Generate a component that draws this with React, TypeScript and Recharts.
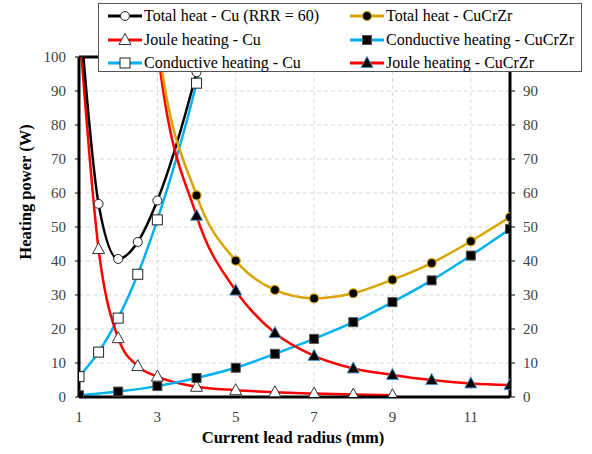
import React from 'react';
import { LineChart, Line, XAxis, YAxis, CartesianGrid, ReferenceLine, Label } from 'recharts';

// radius (mm) for each series
const cuRadius = [1, 1.5, 2, 2.5, 3, 4, 5];
const cuJouleRadius = [1, 1.5, 2, 2.5, 3, 4, 5, 6, 7, 8, 9];
const cucrzrRadius = [1, 2, 3, 4, 5, 6, 7, 8, 9, 10, 11, 12];
const cucrzrJouleRadius = [2, 3, 4, 5, 6, 7, 8, 9, 10, 11, 12];

// heating power (W)
const cuTotal = [116, 56.8, 40.6, 45.6, 57.8, 95.5, 147];
const cuConductive = [6.0, 13.2, 23.2, 36.1, 52.1, 92.3, 145];
const cuJoule = [110, 43.5, 17.3, 9.1, 6.0, 3.0, 2.0, 1.4, 1.0, 0.7, 0.5];
const cucrzrConductive = [0.5, 1.6, 3.2, 5.6, 8.6, 12.7, 17.1, 22.0, 27.9, 34.3, 41.6, 49.4];
const cucrzrJoule = [260, 103, 53.3, 31.3, 18.8, 12.1, 8.4, 6.5, 5.0, 4.0, 3.5];
const cucrzrTotal = [262, 106, 59.3, 40.1, 31.5, 29.0, 30.5, 34.5, 39.4, 45.8, 52.9];

const xTicks = [1, 3, 5, 7, 9, 11];
const yTicks = [0, 10, 20, 30, 40, 50, 60, 70, 80, 90, 100];
// the right axis "100" sits under the legend box
const yTicksRight = [0, 10, 20, 30, 40, 50, 60, 70, 80, 90];

const toRows = (xs: number[], ys: number[]) => xs.map((x, i) => ({ x, y: ys[i] }));

const BLACK = '#000000';
const RED = '#ff0000';
const BLUE = '#00b0f0';
const GOLD = '#d9a300';
const FONT = 'Liberation Serif, DejaVu Serif, serif';

type Mark = (cx: number, cy: number, key?: string) => React.ReactElement;

const tri = (cx: number, cy: number) =>
  `${cx},${cy - 6.5} ${cx + 6},${cy + 4.5} ${cx - 6},${cy + 4.5}`;

const openCircle: Mark = (cx, cy, key) => (
  <circle key={key} cx={cx} cy={cy} r={4.5} fill="#fff" stroke="#222" strokeWidth={1} />
);
const goldCircle: Mark = (cx, cy, key) => (
  <circle key={key} cx={cx} cy={cy} r={4.5} fill="#000" stroke={GOLD} strokeWidth={1.2} />
);
const openTri: Mark = (cx, cy, key) => (
  <polygon key={key} points={tri(cx, cy)} fill="#fff" stroke="#333" strokeWidth={1} />
);
const blackTri: Mark = (cx, cy, key) => (
  <polygon key={key} points={tri(cx, cy)} fill="#000" stroke="#4a90c8" strokeWidth={1} />
);
const openSquare: Mark = (cx, cy, key) => (
  <rect key={key} x={cx - 5} y={cy - 5} width={10} height={10} fill="#fff" stroke="#222" strokeWidth={1} />
);
const blackSquare: Mark = (cx, cy, key) => (
  <rect key={key} x={cx - 4.5} y={cy - 4.5} width={9} height={9} fill="#000" stroke="#555" strokeWidth={1} />
);

const dotOf = (m: Mark) => (p: any) => {
  const k = `dot-${p.index}`;
  if (p.cx == null || p.cy == null) return <g key={k} />;
  return m(p.cx, p.cy, k);
};

const legendItems = [
  { name: 'Total heat - Cu (RRR = 60)', color: BLACK, mark: openCircle, col: 0, row: 0 },
  { name: 'Total heat - CuCrZr', color: GOLD, mark: goldCircle, col: 1, row: 0 },
  { name: 'Joule heating - Cu', color: RED, mark: openTri, col: 0, row: 1 },
  { name: 'Conductive heating - CuCrZr', color: BLUE, mark: blackSquare, col: 1, row: 1 },
  { name: 'Conductive heating - Cu', color: BLUE, mark: openSquare, col: 0, row: 2 },
  { name: 'Joule heating - CuCrZr', color: RED, mark: blackTri, col: 1, row: 2 },
];

function ChartLegend() {
  return (
    <div
      style={{
        position: 'absolute',
        left: 98,
        top: 3,
        width: 484,
        height: 69,
        boxSizing: 'border-box',
        border: '1px solid #555',
        background: '#fff',
        fontFamily: FONT,
        fontSize: 16,
        color: '#000',
      }}
    >
      {legendItems.map((it) => (
        <div
          key={it.name}
          style={{
            position: 'absolute',
            left: it.col === 0 ? 9 : 251,
            top: 0.5 + it.row * 23.5,
            height: 23,
            display: 'flex',
            alignItems: 'center',
            whiteSpace: 'nowrap',
          }}
        >
          <svg width={34} height={16} style={{ marginRight: 2 }}>
            <line x1={0} y1={8} x2={34} y2={8} stroke={it.color} strokeWidth={3} />
            {it.mark(17, 8)}
          </svg>
          <span>{it.name}</span>
        </div>
      ))}
    </div>
  );
}

const tickStyle = { fontFamily: FONT, fontSize: 15, fill: '#404040' };

export default function App() {
  return (
    <div style={{ position: 'absolute', left: 0, top: 0, width: 592, height: 454, background: '#fff', fontFamily: FONT }}>
      <LineChart width={592} height={454} margin={{ top: 57, right: 42, bottom: 7, left: 34 }} style={{ fontFamily: FONT }}>
        <CartesianGrid yAxisId="left" stroke="#d9d9d9" strokeDasharray="4 3" />
        <XAxis
          dataKey="x"
          type="number"
          domain={[1, 12]}
          ticks={xTicks}
          allowDataOverflow
          height={50}
          tickLine={false}
          tickMargin={8}
          axisLine={{ stroke: '#000', strokeWidth: 3 }}
          tick={tickStyle}
        >
          <Label
            content={() => (
              <text x={293} y={437} textAnchor="middle" dominantBaseline="central" fontFamily={FONT} fontSize={16.5} fontWeight="bold" fill="#000">
                Current lead radius (mm)
              </text>
            )}
          />
        </XAxis>
        <YAxis
          yAxisId="left"
          domain={[0, 100]}
          ticks={yTicks}
          allowDataOverflow
          width={45}
          tickSize={4}
          tickMargin={9}
          tickLine={{ stroke: '#000' }}
          axisLine={{ stroke: '#000', strokeWidth: 3 }}
          tick={tickStyle}
        >
          <Label
            content={() => (
              <text x={25} y={192} transform="rotate(-90, 25, 192)" textAnchor="middle" dominantBaseline="central" fontFamily={FONT} fontSize={16.5} fontWeight="bold" fill="#000">
                Heating power (W)
              </text>
            )}
          />
        </YAxis>
        <YAxis
          yAxisId="right"
          orientation="right"
          domain={[0, 100]}
          ticks={yTicksRight}
          allowDataOverflow
          width={40}
          tickSize={5}
          tickMargin={8}
          tickLine={{ stroke: '#000' }}
          axisLine={{ stroke: '#000', strokeWidth: 3 }}
          tick={tickStyle}
        />
        <ReferenceLine yAxisId="left" y={100} stroke="#000" strokeWidth={3} />

        <Line yAxisId="left" data={toRows(cuRadius, cuConductive)} dataKey="y" type="monotone" stroke={BLUE} strokeWidth={2.5} dot={dotOf(openSquare)} isAnimationActive={false} />
        <Line yAxisId="left" data={toRows(cuJouleRadius, cuJoule)} dataKey="y" type="monotone" stroke={RED} strokeWidth={2.5} dot={dotOf(openTri)} isAnimationActive={false} />
        <Line yAxisId="left" data={toRows(cuRadius, cuTotal)} dataKey="y" type="monotone" stroke={BLACK} strokeWidth={2.5} dot={dotOf(openCircle)} isAnimationActive={false} />
        <Line yAxisId="left" data={toRows(cucrzrRadius, cucrzrConductive)} dataKey="y" type="monotone" stroke={BLUE} strokeWidth={2.5} dot={dotOf(blackSquare)} isAnimationActive={false} />
        <Line yAxisId="left" data={toRows(cucrzrJouleRadius, cucrzrJoule)} dataKey="y" type="monotone" stroke={RED} strokeWidth={2.5} dot={dotOf(blackTri)} isAnimationActive={false} />
        <Line yAxisId="left" data={toRows(cucrzrJouleRadius, cucrzrTotal)} dataKey="y" type="monotone" stroke={GOLD} strokeWidth={2.5} dot={dotOf(goldCircle)} isAnimationActive={false} />
      </LineChart>
      <ChartLegend />
    </div>
  );
}
